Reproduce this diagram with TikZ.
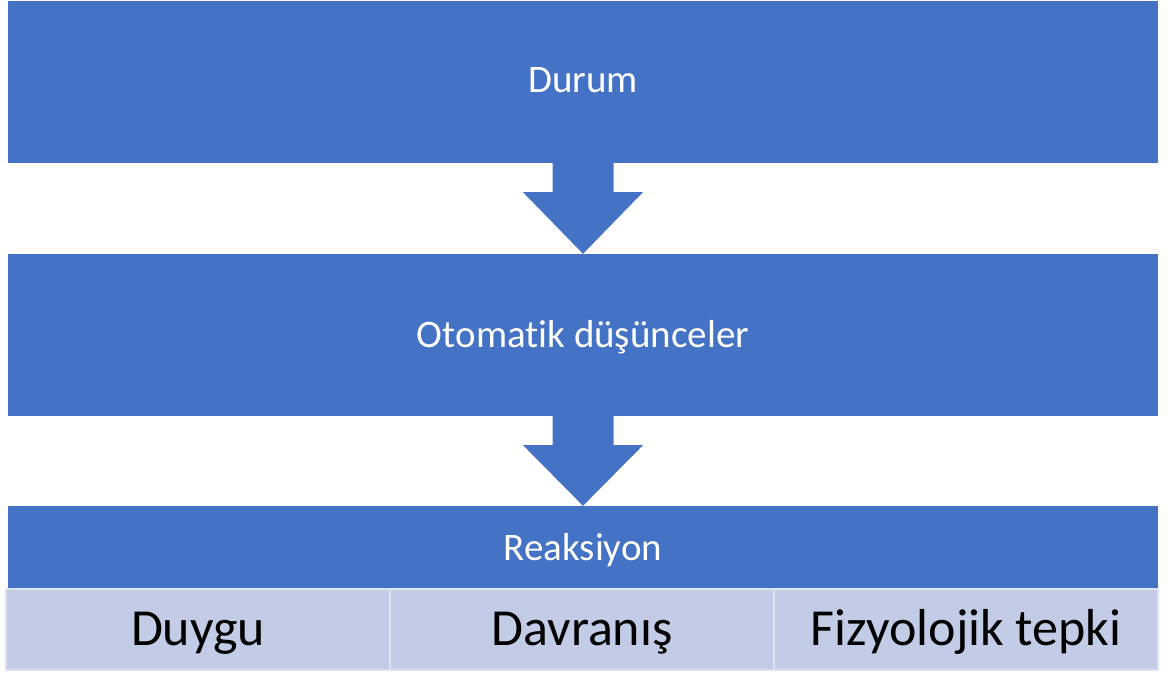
\documentclass[tikz,border=0pt]{standalone}
\usepackage{fontspec}
\setmainfont{Carlito}[Ligatures=NoCommon]
\usetikzlibrary{calc}
\definecolor{dblue}{HTML}{4472C4}
\definecolor{lblue}{HTML}{C3CCE6}
\definecolor{lline}{HTML}{DCE2F1}
\begin{document}
\begin{tikzpicture}[x=1pt,y=-1pt,
  bigbox/.style={fill=dblue, draw=none, text=white, inner sep=0pt, minimum width=1150pt, font=\fontsize{39}{46}\selectfont, text height=25pt},
  subbox/.style={fill=lblue, draw=lline, line width=1.2pt, inner sep=0pt, minimum width=384pt, minimum height=81pt, font=\fontsize{52}{60}\selectfont, text=black, text height=34pt, text depth=3pt},
  arrowfill/.style={fill=dblue, draw=none}]
\useasboundingbox (0,0) rectangle (1171,673);
\node[bigbox, minimum height=162pt, text depth=5pt] (durum) at (583,82) {Durum};
\node[bigbox, minimum height=162pt, text depth=-1pt] (oto) at (583,335) {Otomatik düşünceler};
\node[bigbox, minimum height=83pt, text depth=0pt] (reak) at (583,547.5) {Reaksiyon};
\node[subbox] (duygu) at (198,629.5) {Duygu};
\node[subbox] (davr) at (582,629.5) {Davranış};
\node[subbox] (fiz) at (966,629.5) {Fizyolojik tepki};
\fill[arrowfill] ($(durum.south)+(-30.5,0)$) -- ($(durum.south)+(-30.5,29)$) -- ($(durum.south)+(-60,29)$) -- (oto.north) -- ($(durum.south)+(60,29)$) -- ($(durum.south)+(30.5,29)$) -- ($(durum.south)+(30.5,0)$) -- cycle;
\fill[arrowfill] ($(oto.south)+(-30.5,0)$) -- ($(oto.south)+(-30.5,29)$) -- ($(oto.south)+(-60,29)$) -- (reak.north) -- ($(oto.south)+(60,29)$) -- ($(oto.south)+(30.5,29)$) -- ($(oto.south)+(30.5,0)$) -- cycle;
\end{tikzpicture}
\end{document}
